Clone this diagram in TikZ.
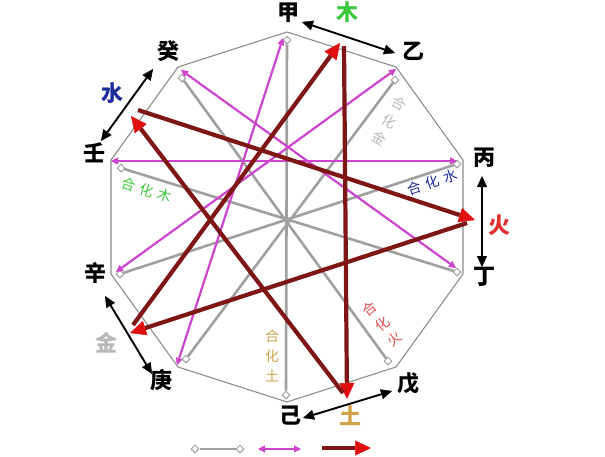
\documentclass[tikz,border=0pt]{standalone}
\usepackage{fontspec}
\setmainfont{Noto Sans CJK SC}
\usetikzlibrary{arrows.meta,shapes.geometric}
\definecolor{outlinegray}{HTML}{8C8C8C}
\definecolor{diagray}{HTML}{A0A0A0}
\definecolor{chongmag}{HTML}{CC44CC}
\definecolor{kedark}{HTML}{7E1616}
\definecolor{tipred}{HTML}{E01010}
\definecolor{mugreen}{HTML}{3CC83C}
\definecolor{huored}{HTML}{E03030}
\definecolor{tugold}{HTML}{D0A248}
\definecolor{jingray}{HTML}{B8B8B8}
\definecolor{shuiblue}{HTML}{1E2C9E}
\begin{document}
\begin{tikzpicture}[x=1pt,y=-1pt,
  stem/.style={font=\fontsize{22}{22}\selectfont\bfseries, inner sep=0pt, text=black},
  elem/.style={font=\fontsize{22}{22}\selectfont\bfseries, inner sep=0pt},
  smalllab/.style={font=\fontsize{14}{20}\selectfont, inner sep=0pt, align=center},
  outline/.style={draw=outlinegray, line width=1.1pt, line join=round},
  diam/.style={diamond, draw=diagray, fill=white, line width=1pt, minimum size=8pt, inner sep=0pt},
  heline/.style={draw=diagray, line width=2.6pt},
  chong/.style={draw=chongmag, line width=2.2pt,
    {Triangle[length=7pt,width=7pt,line width=0.4pt]}-{Triangle[length=7pt,width=7pt,line width=0.4pt]}},
  ke/.style={draw=kedark, line width=4.2pt,
    -{Triangle[length=16pt,width=15pt,line width=0.5pt,fill=tipred,color=tipred]}},
  pairarrow/.style={draw=black, line width=1.9pt,
    {Triangle[length=11pt,width=10pt,line width=0.4pt]}-{Triangle[length=11pt,width=10pt,line width=0.4pt]}}
]
\useasboundingbox (0,0) rectangle (605,456);

% decagon vertices
\coordinate (vJia) at (287,32);
\coordinate (vYi) at (396,67);
\coordinate (vBing) at (463,160);
\coordinate (vDing) at (463,274);
\coordinate (vWu) at (396,367);
\coordinate (vJi) at (287,402);
\coordinate (vGeng) at (178,367);
\coordinate (vXin) at (111,274);
\coordinate (vRen) at (111,160);
\coordinate (vGui) at (178,67);
\draw[outline] (vJia) -- (vYi) -- (vBing) -- (vDing) -- (vWu) -- (vJi) -- (vGeng) -- (vXin) -- (vRen) -- (vGui) -- cycle;

% diamond ends of the he (combination) lines
\node[diam] (dJia) at (287,40) {};
\node[diam] (dJi) at (286,395) {};
\node[diam] (dYi) at (395,80) {};
\node[diam] (dGeng) at (186,359) {};
\node[diam] (dBing) at (457,164) {};
\node[diam] (dXin) at (120,274) {};
\node[diam] (dDing) at (457,272) {};
\node[diam] (dRen) at (121,168) {};
\node[diam] (dWu) at (388,361) {};
\node[diam] (dGui) at (182,78) {};
\draw[heline] (dJia) -- (dJi);
\draw[heline] (dYi) -- (dGeng);
\draw[heline] (dBing) -- (dXin);
\draw[heline] (dDing) -- (dRen);
\draw[heline] (dWu) -- (dGui);

% chong (clash) double arrows
\coordinate (mJia) at (283,38);
\coordinate (mGeng) at (177,365);
\coordinate (mYi) at (396,69);
\coordinate (mXin) at (116,272);
\coordinate (mBing) at (457,161);
\coordinate (mRen) at (111,161);
\coordinate (mDing) at (456,268);
\coordinate (mGui) at (181,70);
\draw[chong] (mJia) -- (mGeng);
\draw[chong] (mYi) -- (mXin);
\draw[chong] (mBing) -- (mRen);
\draw[chong] (mDing) -- (mGui);

% ke (control) arrows between element points
\coordinate (kJinS) at (133,325);
\coordinate (kMuT) at (340,43);
\coordinate (kMuS) at (344,46);
\coordinate (kTuT) at (347,399);
\coordinate (kTuS) at (343,393);
\coordinate (kShuiT) at (131,116);
\coordinate (kShuiS) at (138,110);
\coordinate (kHuoT) at (475,220);
\coordinate (kHuoS) at (467,223);
\coordinate (kJinT) at (130,333);
\draw[ke] (kJinS) -- (kMuT);
\draw[ke] (kMuS) -- (kTuT);
\draw[ke] (kTuS) -- (kShuiT);
\draw[ke] (kShuiS) -- (kHuoT);
\draw[ke] (kHuoS) -- (kJinT);

% black pair arrows
\coordinate (bJY1) at (302,22);
\coordinate (bJY2) at (395,53);
\coordinate (bBD1) at (482,176);
\coordinate (bBD2) at (482,267);
\coordinate (bWJ1) at (392,391);
\coordinate (bWJ2) at (303,418);
\coordinate (bGX1) at (105,296);
\coordinate (bGX2) at (152,374);
\coordinate (bRG1) at (101,141);
\coordinate (bRG2) at (153,69);
\draw[pairarrow] (bJY1) -- (bJY2);
\draw[pairarrow] (bBD1) -- (bBD2);
\draw[pairarrow] (bWJ1) -- (bWJ2);
\draw[pairarrow] (bGX1) -- (bGX2);
\draw[pairarrow] (bRG1) -- (bRG2);

% stem labels
\node[stem] (lJia) at (288,13) {甲};
\node[stem] (lYi) at (413,51) {乙};
\node[stem] (lBing) at (484,158) {丙};
\node[stem] (lDing) at (484,277) {丁};
\node[stem] (lWu) at (408,383) {戊};
\node[stem] (lJi) at (290,416) {己};
\node[stem] (lGeng) at (161,380) {庚};
\node[stem] (lXin) at (95,273) {辛};
\node[stem] (lRen) at (94,153) {壬};
\node[stem] (lGui) at (168,51) {癸};

% element labels
\node[elem, text=mugreen] (eMu) at (347,12) {木};
\node[elem, text=huored] (eHuo) at (499,225) {火};
\node[elem, text=tugold] (eTu) at (350,416) {土};
\node[elem, text=jingray] (eJin) at (106,343) {金};
\node[elem, text=shuiblue] (eShui) at (112,93) {水};

% combination labels
\node[smalllab, text=tugold] (hTu) at (272,356) {合\\化\\土};
\node[smalllab, text=jingray, rotate=-30] (hJin) at (389,121) {合\\化\\金};
\node[smalllab, text=huored!85, rotate=40] (hHuo) at (382,324) {合\\化\\火};
\node[smalllab, text=shuiblue, rotate=19] (hShui) at (432,182) {合\hspace{5pt}化\hspace{5pt}水};
\node[smalllab, text=mugreen, rotate=-17] (hMu) at (147,190) {合\hspace{5pt}化\hspace{5pt}木};

% legend
\node[diam] (gL1) at (195,449) {};
\node[diam] (gL2) at (240,449) {};
\draw[heline] (gL1) -- (gL2);
\coordinate (mL1) at (258,449);
\coordinate (mL2) at (301,449);
\draw[chong] (mL1) -- (mL2);
\coordinate (kL1) at (322,448);
\coordinate (kL2) at (371,448);
\draw[ke] (kL1) -- (kL2);
\end{tikzpicture}
\end{document}
